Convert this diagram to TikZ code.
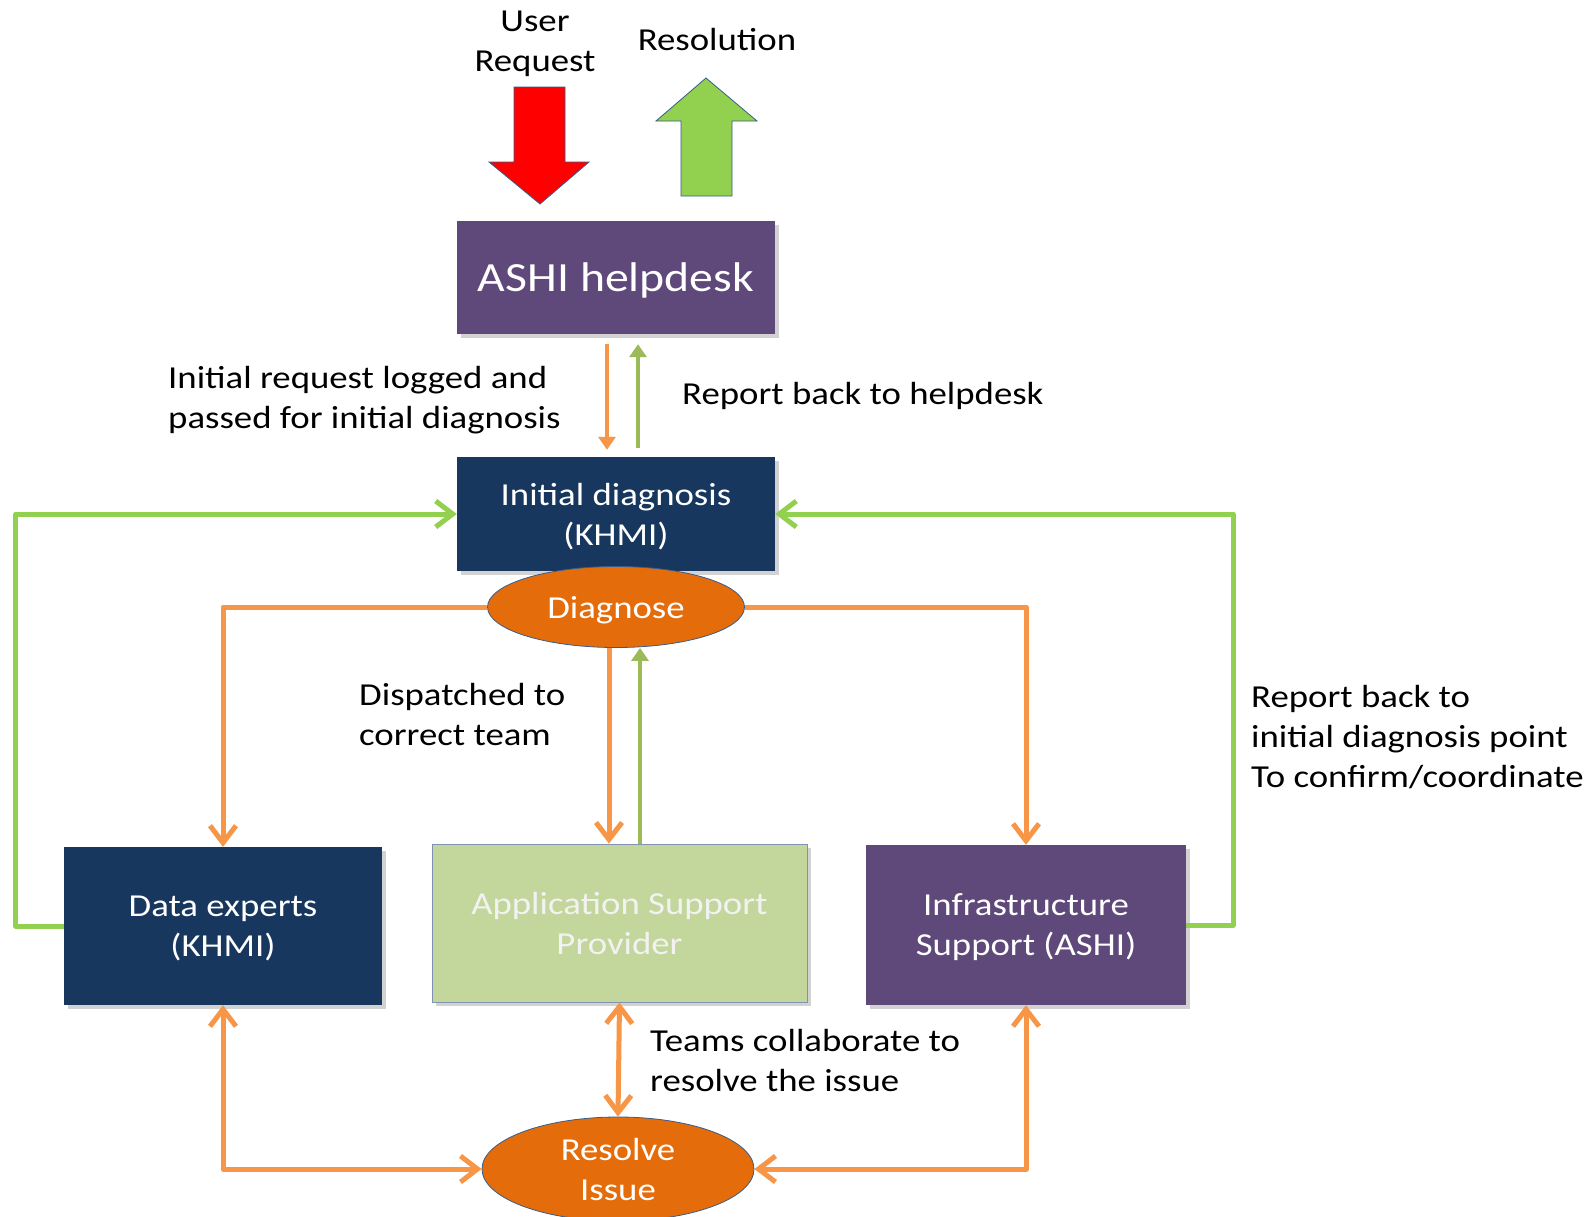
\documentclass[tikz,border=0pt]{standalone}
\usepackage{fontspec}
\setmainfont{Carlito}[FakeStretch=1.15]
\usepackage{tikz}
\usetikzlibrary{arrows.meta, shapes.geometric, shadows, positioning}

\definecolor{ashipurple}{HTML}{5F497A}
\definecolor{khminavy}{HTML}{17375E}
\definecolor{appgreen}{HTML}{C3D69B}
\definecolor{appedge}{HTML}{8093B3}
\definecolor{resolveorange}{HTML}{E46C0A}
\definecolor{floworange}{HTML}{F79646}
\definecolor{flowgreen}{HTML}{92D050}
\definecolor{backgreen}{HTML}{9BBB59}
\definecolor{edgeblue}{HTML}{385D8A}

\tikzset{
  txt/.style={font=\fontsize{32}{40}\selectfont},
  note/.style={txt, align=left, inner sep=0pt, anchor=west},
  teambox/.style={txt, text=white, align=center, inner sep=0pt, text depth=0pt,
    minimum width=318pt, minimum height=158pt,
    drop shadow={shadow xshift=4pt, shadow yshift=-4pt, opacity=.35}},
  blob/.style={txt, ellipse, text=white, align=center, inner sep=0pt, text depth=0pt,
    fill=resolveorange, draw=edgeblue, line width=0.8pt},
  orangeline/.style={draw=floworange, line width=5pt, line join=round,
    -{Straight Barb[length=17pt,width=26pt]}},
  greenline/.style={draw=flowgreen, line width=5pt, line join=round,
    -{Straight Barb[length=17pt,width=26pt]}},
  smallorange/.style={draw=floworange, line width=4.5pt,
    -{Triangle[length=13pt,width=17pt]}},
  smallgreen/.style={draw=backgreen, line width=4.5pt,
    -{Triangle[length=13pt,width=17pt]}},
  bigarrow/.style={draw=edgeblue, line width=0.8pt}
}

\begin{document}
\begin{tikzpicture}[x=1pt, y=-1pt]
\useasboundingbox (0,0) rectangle (1596,1216);
\fill[white] (0,0) rectangle (1596,1216);

% request and resolution
\draw[bigarrow, fill=red] (514,87) -- (565,87) -- (565,162) -- (589,162)
  -- (540,204) -- (489,162) -- (514,162) -- cycle;
\draw[bigarrow, fill=flowgreen] (681,196) -- (732,196) -- (732,121)
  -- (757,121) -- (706,78) -- (656,121) -- (681,121) -- cycle;
\node[txt, align=center] (user) at (535,44) {User\\Request};
\node[txt] (resol) at (717,40) {Resolution};

% boxes
\node[teambox, fill=ashipurple, minimum height=113pt,
      font=\fontsize{41.5}{50}\selectfont] (help) at (616,277.5) {ASHI helpdesk};
\node[teambox, fill=khminavy, minimum height=114pt] (init) at (616,514)
  {Initial diagnosis\\(KHMI)};
\node[blob, minimum width=257pt, minimum height=81pt] (diag) at (616,607) {Diagnose};
\node[teambox, fill=khminavy] (data) at (223,926) {Data experts\\(KHMI)};
\node[teambox, fill=appgreen, draw=appedge, line width=0.8pt, minimum width=375pt,
      text=white!95!black] (app) at (619.5,923) {Application Support\\Provider};
\node[teambox, fill=ashipurple, minimum width=320pt, minimum height=160pt]
  (infra) at (1026,925) {Infrastructure\\Support (ASHI)};
\node[blob, minimum width=272pt, minimum height=104pt] (res) at (618,1169)
  {Resolve\\Issue};

% labels
\node[note] (logged) at (168,400) {Initial request logged and\\passed for initial diagnosis};
\node[note] (rephelp) at (682,396) {Report back to helpdesk};
\node[note] (disp) at (359,714) {Dispatched to\\correct team};
\node[note] (repinit) at (1251,737)
  {Report back to\\initial diagnosis point\\To confirm/coordinate};
\node[note] (collab) at (650,1060) {Teams collaborate to\\resolve the issue};

% helpdesk <-> initial diagnosis
\draw[smallorange, shorten <=10pt, shorten >=7pt]
  ([xshift=-9pt]help.south) -- ([xshift=-9pt]init.north);
\draw[smallgreen, shorten <=9pt, shorten >=10pt]
  ([xshift=22pt]init.north) -- ([xshift=22pt]help.south);

% dispatch
\draw[orangeline] (diag.west) -| (data.north);
\draw[orangeline] (diag.east) -| (infra.north);
\draw[orangeline] ([xshift=-7pt]diag.south) -- ([xshift=-10.5pt]app.north);
\draw[smallgreen] ([xshift=20.5pt]app.north) -- ([xshift=24pt]diag.south);

% report back
\draw[greenline] (data.west) -- ++(-48,0) |- (init.west);
\draw[greenline] (infra.east) -- ++(47,0) |- (init.east);

% collaborate
\draw[orangeline, {Straight Barb[length=17pt,width=26pt]}-{Straight Barb[length=17pt,width=26pt]}]
  (app.south) -- (res.north);
\draw[orangeline, {Straight Barb[length=17pt,width=26pt]}-{Straight Barb[length=17pt,width=26pt]}]
  (data.south) |- (res.west);
\draw[orangeline, {Straight Barb[length=17pt,width=26pt]}-{Straight Barb[length=17pt,width=26pt]}]
  (infra.south) |- (res.east);
\end{tikzpicture}
\end{document}
